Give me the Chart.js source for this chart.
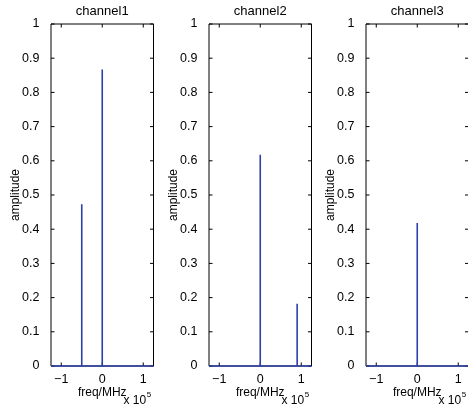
<!DOCTYPE html>
<html>
<head>
<meta charset="utf-8">
<script src="https://cdn.jsdelivr.net/npm/chart.js@4/dist/chart.umd.min.js"></script>
<style>
  html, body { margin: 0; padding: 0; background: #fff; overflow: hidden; width: 468px; height: 411px; }
  canvas { position: absolute; left: 0; top: 0; }
</style>
</head>
<body>
<canvas id="c1" width="480" height="411"></canvas>
<canvas id="c2" width="480" height="411"></canvas>
<canvas id="c3" width="480" height="411"></canvas>
<script>
// ---- data ----
const channelNames = ['channel1', 'channel2', 'channel3'];
const freqMin = -1.25e5;
const freqMax = 1.25e5;
const ch1Freq = [-0.5e5, 0];
const ch1Amp = [0.473, 0.867];
const ch2Freq = [0, 0.9e5];
const ch2Amp = [0.618, 0.182];
const ch3Freq = [0];
const ch3Amp = [0.418];
const xTicks = [-1e5, 0, 1e5];
const xTickLabels = ['\u22121', '0', '1'];
const yTicks = [0, 0.1, 0.2, 0.3, 0.4, 0.5, 0.6, 0.7, 0.8, 0.9, 1];
const yTickLabels = ['0', '0.1', '0.2', '0.3', '0.4', '0.5', '0.6', '0.7', '0.8', '0.9', '1'];
const xLabel = 'freq/MHz';
const yLabel = 'amplitude';

// ---- layout ----
const plotLefts = [51, 209, 366];
const plotWidth = 102.5;
const canvasW = 480;
const yAxisW = 48;
const xAxisH = 45;
const FONT = "'Liberation Sans', Arial, Helvetica, sans-serif";
const LINE_COLOR = '#2b40a8';

function spikePoints(freqs, amps) {
  const pts = [{x: freqMin, y: 0}];
  freqs.forEach((f, i) => {
    pts.push({x: f, y: 0});
    pts.push({x: f, y: amps[i]});
    pts.push({x: f, y: 0});
  });
  pts.push({x: freqMax, y: 0});
  return pts;
}

const framePlugin = {
  id: 'matlabFrame',
  beforeDatasetsDraw(chart) {
    const {ctx, chartArea: a, scales} = chart;
    const xs = scales.x, ys = scales.y;
    const tl = 3.5;
    ctx.save();
    ctx.strokeStyle = '#000';
    ctx.lineWidth = 1;
    ctx.beginPath();
    ctx.rect(a.left, a.top, a.right - a.left, a.bottom - a.top);
    xTicks.forEach(v => {
      const px = xs.getPixelForValue(v);
      ctx.moveTo(px, a.bottom); ctx.lineTo(px, a.bottom - tl);
      ctx.moveTo(px, a.top); ctx.lineTo(px, a.top + tl);
    });
    yTicks.forEach(v => {
      const py = ys.getPixelForValue(v);
      ctx.moveTo(a.left, py); ctx.lineTo(a.left + tl, py);
      ctx.moveTo(a.right, py); ctx.lineTo(a.right - tl, py);
    });
    ctx.stroke();
    ctx.restore();
  },
  afterDraw(chart) {
    const {ctx, chartArea: a} = chart;
    ctx.save();
    ctx.fillStyle = '#000';
    ctx.textBaseline = 'middle';
    ctx.textAlign = 'left';
    ctx.font = '12px ' + FONT;
    const x0 = a.right - 30;
    const txt = 'x 10';
    ctx.fillText(txt, x0, 401);
    const w = ctx.measureText(txt).width;
    ctx.font = '8px ' + FONT;
    ctx.fillText('5', x0 + w + 0.5, 395);
    ctx.restore();
  }
};

function makeChart(id, idx, freqs, amps) {
  const left = plotLefts[idx];
  const right = left + plotWidth;
  return new Chart(document.getElementById(id), {
    type: 'line',
    data: {
      datasets: [{
        data: spikePoints(freqs, amps),
        borderColor: LINE_COLOR,
        borderWidth: 1.6,
        pointRadius: 0,
        tension: 0,
        fill: false,
        clip: 3
      }]
    },
    options: {
      responsive: false,
      animation: false,
      devicePixelRatio: 1,
      parsing: false,
      layout: { padding: { left: left - yAxisW, right: canvasW - right, top: 0, bottom: 0 } },
      plugins: {
        legend: { display: false },
        tooltip: { enabled: false },
        title: {
          display: true,
          text: channelNames[idx],
          fullSize: false,
          color: '#000',
          font: { family: FONT, size: 13, weight: 'normal', lineHeight: 1.2 },
          padding: { top: 3.2, bottom: 5.2 }
        }
      },
      scales: {
        x: {
          type: 'linear',
          min: freqMin,
          max: freqMax,
          grid: { display: false },
          border: { display: false },
          afterBuildTicks(s) { s.ticks = xTicks.map(v => ({value: v})); },
          afterFit(s) { s.height = xAxisH; },
          ticks: {
            color: '#000',
            padding: -1.5,
            maxRotation: 0,
            font: { family: FONT, size: 12.5, lineHeight: 1.2 },
            callback: (v) => xTickLabels[xTicks.indexOf(v)]
          },
          title: {
            display: true,
            text: xLabel,
            color: '#000',
            font: { family: FONT, size: 12, lineHeight: 1.2 },
            padding: { top: 0, bottom: 11.5 }
          }
        },
        y: {
          type: 'linear',
          min: 0,
          max: 1,
          grid: { display: false },
          border: { display: false },
          afterBuildTicks(s) { s.ticks = yTicks.map(v => ({value: v})); },
          afterFit(s) { s.width = yAxisW; },
          ticks: {
            color: '#000',
            padding: 3.5,
            font: { family: FONT, size: 12.5, lineHeight: 1.2 },
            callback: (v) => yTickLabels[yTicks.indexOf(v)]
          },
          title: {
            display: true,
            text: yLabel,
            color: '#000',
            font: { family: FONT, size: 12, lineHeight: 1.2 },
            padding: { top: 5, bottom: 0 }
          }
        }
      }
    },
    plugins: [framePlugin]
  });
}

makeChart('c1', 0, ch1Freq, ch1Amp);
makeChart('c2', 1, ch2Freq, ch2Amp);
makeChart('c3', 2, ch3Freq, ch3Amp);
</script>
</body>
</html>
